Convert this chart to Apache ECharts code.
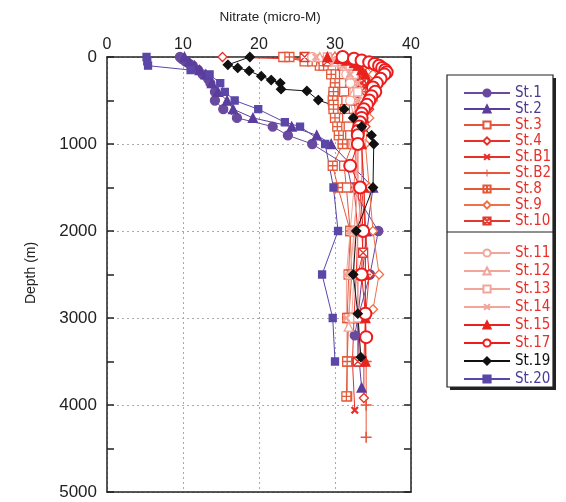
<!DOCTYPE html>
<html>
<head>
<meta charset="utf-8">
<script src="https://cdn.jsdelivr.net/npm/echarts@6/dist/echarts.min.js"></script>
<style>html,body{margin:0;padding:0;background:#fff}#c{width:566px;height:502px}</style>
</head>
<body>
<div id="c"></div>
<script>
// ---- data (nitrate in micro-M vs depth in m) ----
const xTicks = [0, 10, 20, 30, 40];
const yTicks = [0, 1000, 2000, 3000, 4000, 5000];

const st1Depth = [0, 25, 50, 75, 100, 150, 200, 250, 300, 400, 500, 600, 700, 800, 900, 1000, 1250, 1500, 2000, 2500, 3000, 3200];
const st1NO3   = [9.6, 9.9, 10.3, 10.8, 11.3, 12.0, 12.6, 13.3, 13.6, 14.2, 14.2, 15.3, 17.1, 21.8, 23.8, 27.0, 31.6, 32.2, 35.7, 34.6, 33.0, 32.6];

const st2Depth = [0, 50, 100, 150, 200, 300, 400, 500, 600, 700, 800, 900, 1000, 1500, 2000, 2500, 3000, 3500, 3800];
const st2NO3   = [10.2, 10.8, 11.5, 12.2, 13.0, 13.8, 14.6, 15.8, 16.6, 19.2, 24.3, 27.6, 29.5, 35.0, 34.2, 33.6, 33.0, 33.2, 33.5];

const st3Depth = [0, 50, 100, 200, 300, 400, 500, 600, 700, 800, 900, 1000, 1250, 1500, 2000, 2500, 3000, 3500, 3900];
const st3NO3   = [23.2, 26.0, 28.0, 30.0, 30.8, 31.2, 31.5, 31.3, 31.6, 31.8, 32.0, 32.3, 31.2, 31.5, 32.0, 31.8, 31.6, 31.6, 31.6];

const st4Depth = [0, 30, 75, 125, 200, 300, 400, 500, 600, 800, 1000, 1500, 2000, 2500, 3000, 3500, 3920];
const st4NO3   = [15.2, 28.0, 31.0, 32.0, 33.0, 33.5, 34.0, 34.2, 34.5, 34.0, 33.5, 33.5, 34.0, 34.5, 34.0, 33.8, 33.8];

const stB1Depth = [0, 50, 100, 200, 300, 500, 700, 1000, 1500, 2000, 2500, 3000, 3500, 4060];
const stB1NO3   = [29.0, 31.0, 32.5, 33.0, 33.5, 33.0, 33.0, 32.8, 32.5, 33.0, 32.8, 32.5, 32.3, 32.6];

const stB2Depth = [0, 50, 100, 200, 400, 600, 800, 1000, 1500, 2000, 2500, 3000, 3500, 4000, 4370];
const stB2NO3   = [30.0, 32.0, 33.0, 34.0, 34.0, 33.5, 33.5, 33.5, 33.8, 34.0, 34.0, 34.0, 34.1, 34.1, 34.1];

const st8Depth = [0, 50, 100, 200, 300, 350, 400, 450, 500, 550, 600, 700, 800, 900, 1000, 1250, 1500, 2000, 2500, 3000, 3500, 3900];
const st8NO3   = [24.0, 27.0, 28.5, 29.5, 30.0, 30.0, 29.8, 29.8, 29.7, 29.8, 29.8, 30.0, 30.3, 30.5, 31.0, 29.7, 30.4, 32.0, 32.2, 31.8, 31.6, 31.5];

const st9Depth = [0, 50, 100, 200, 300, 500, 700, 1000, 1500, 2000, 2500, 2900];
const st9NO3   = [30.0, 32.0, 34.0, 35.0, 35.5, 35.0, 34.5, 34.0, 34.5, 35.0, 35.8, 35.0];

const st10Depth = [0, 50, 100, 200, 300, 500, 700, 1000, 1500, 2000, 2250, 2500, 3000, 3500];
const st10NO3   = [26.0, 29.0, 31.0, 32.0, 32.5, 32.5, 32.8, 33.0, 33.0, 33.5, 33.7, 33.0, 33.0, 33.0];

const st11Depth = [0, 50, 100, 200, 300, 500, 700, 1000, 1500, 2000, 2500, 3000];
const st11NO3   = [27.0, 30.0, 31.0, 31.5, 32.0, 32.0, 32.5, 32.5, 33.0, 32.5, 32.5, 32.2];

const st12Depth = [0, 50, 100, 200, 400, 600, 1000, 1500, 2000, 2500, 3100];
const st12NO3   = [28.0, 30.0, 31.5, 32.0, 32.5, 33.0, 33.0, 33.0, 32.5, 32.0, 31.8];

const st13Depth = [0, 50, 100, 200, 400, 600, 1000, 1500, 2000, 2500, 3000];
const st13NO3   = [29.0, 31.0, 32.0, 32.5, 33.0, 33.5, 33.5, 33.5, 33.0, 33.0, 33.0];

const st14Depth = [0, 50, 100, 200, 300, 500, 800, 1000, 1500, 2000, 2500, 3000];
const st14NO3   = [27.5, 30.0, 31.0, 32.0, 33.0, 33.0, 33.5, 33.0, 32.5, 32.0, 31.5, 31.5];

const st15Depth = [0, 20, 40, 70, 100, 150, 200, 300, 400, 500, 700, 1000, 1500, 2000, 2500, 3000, 3500];
const st15NO3   = [29.0, 30.5, 31.5, 32.5, 33.0, 33.5, 34.0, 34.5, 34.5, 34.0, 33.8, 33.5, 33.8, 34.0, 34.0, 34.0, 34.0];

const st17Depth = [0, 20, 40, 60, 80, 100, 125, 150, 175, 200, 250, 300, 350, 400, 450, 500, 550, 600, 650, 700, 750, 800, 850, 900, 1000, 1250, 1500, 2000, 2500, 2950, 3220];
const st17NO3   = [31.0, 32.5, 33.5, 34.5, 35.2, 35.8, 36.2, 36.6, 36.8, 36.5, 36.0, 35.5, 35.0, 35.3, 34.8, 34.5, 34.2, 33.8, 33.5, 33.5, 33.3, 33.2, 33.0, 33.0, 33.0, 32.0, 33.3, 33.7, 33.5, 34.0, 34.1];

const st19Depth = [0, 90, 125, 160, 220, 265, 300, 370, 390, 495, 600, 700, 800, 900, 1000, 1500, 2000, 2500, 2950, 3450];
const st19NO3   = [18.8, 15.9, 17.2, 18.7, 20.3, 21.6, 22.8, 22.9, 26.3, 27.8, 31.2, 32.4, 33.5, 34.8, 35.1, 35.0, 32.8, 32.4, 33.0, 33.4];

const st20Depth = [0, 50, 100, 150, 200, 300, 400, 500, 600, 750, 800, 1000, 1500, 2000, 2500, 3000, 3500];
const st20NO3   = [5.2, 5.3, 5.4, 11.0, 13.5, 14.9, 15.5, 16.8, 19.9, 23.4, 25.4, 28.7, 29.8, 30.4, 28.3, 29.7, 30.0];

// ---- styling ----
const PURPLE = '#6a4a9e', PURPLE2 = '#5a3d9c', PURPLE3 = '#5b47a8', RED = '#e8302a', PINK = '#f2a59a';
const X_PATH = 'path://M2,0L5,3L8,0L10,2L7,5L10,8L8,10L5,7L2,10L0,8L3,5L0,2Z';
const PLUS_PATH = 'path://M4.3,0H5.7V4.3H10V5.7H5.7V10H4.3V5.7H0V4.3H4.3Z';
const SQPLUS = 'path://M0,0H10V10H0Z M5,0V10 M0,5H10';
const SQX = 'path://M0,0H10V10H0Z M0,0L10,10 M10,0L0,10';

function pts(d, v) { return d.map((dd, i) => [v[i], dd]); }

const stations = [
  {name:'St.1',  d:st1Depth,  v:st1NO3,  line:PURPLE,  sym:'circle', size:9, fill:PURPLE, stroke:PURPLE, txt:'#4b3a8f'},
  {name:'St.2',  d:st2Depth,  v:st2NO3,  line:PURPLE2, sym:'triangle', size:9, fill:PURPLE2, stroke:PURPLE2, txt:'#4b3a8f'},
  {name:'St.3',  d:st3Depth,  v:st3NO3,  line:'#e5553c', sym:'rect', size:9, fill:'#fff', stroke:'#e5553c', txt:RED},
  {name:'St.4',  d:st4Depth,  v:st4NO3,  line:RED, sym:'diamond', size:9, fill:'#fff', stroke:RED, txt:RED},
  {name:'St.B1', d:stB1Depth, v:stB1NO3, line:RED, sym:X_PATH, size:8, fill:RED, stroke:RED, bw:0, txt:RED},
  {name:'St.B2', d:stB2Depth, v:stB2NO3, line:'#e8553a', sym:PLUS_PATH, size:11, fill:'#e8553a', stroke:'#e8553a', bw:0, txt:RED},
  {name:'St.8',  d:st8Depth,  v:st8NO3,  line:'#e25a3a', sym:SQPLUS, size:9, fill:'#fff', stroke:'#e25a3a', txt:RED},
  {name:'St.9',  d:st9Depth,  v:st9NO3,  line:'#f07048', sym:'diamond', size:9, fill:'#fff', stroke:'#f07048', txt:RED},
  {name:'St.10', d:st10Depth, v:st10NO3, line:'#e03a30', sym:SQX, size:9, fill:'#fff', stroke:'#e03a30', txt:RED},
  {name:'St.11', d:st11Depth, v:st11NO3, line:PINK, sym:'circle', size:9, fill:'#fff', stroke:PINK, txt:RED},
  {name:'St.12', d:st12Depth, v:st12NO3, line:PINK, sym:'triangle', size:9, fill:'#fff', stroke:PINK, txt:RED},
  {name:'St.13', d:st13Depth, v:st13NO3, line:PINK, sym:'rect', size:8, fill:'#fff', stroke:PINK, txt:RED},
  {name:'St.14', d:st14Depth, v:st14NO3, line:PINK, sym:X_PATH, size:8, fill:PINK, stroke:PINK, bw:0, txt:RED},
  {name:'St.15', d:st15Depth, v:st15NO3, line:'#e8231e', sym:'triangle', size:9, fill:'#e8231e', stroke:'#e8231e', txt:RED},
  {name:'St.17', d:st17Depth, v:st17NO3, line:'#ee1c1c', sym:'circle', size:12, fill:'#fff', stroke:'#ee1c1c', bw:2, txt:RED},
  {name:'St.19', d:st19Depth, v:st19NO3, line:'#111', sym:'diamond', size:9, fill:'#111', stroke:'#111', txt:'#111'},
  {name:'St.20', d:st20Depth, v:st20NO3, line:PURPLE3, sym:'rect', size:7, fill:PURPLE3, stroke:PURPLE3, txt:'#4b3a9a'}
];

const series = stations.map(s => ({
  name: s.name, type: 'line', data: pts(s.d, s.v),
  symbol: s.sym, symbolSize: s.size, showSymbol: true,
  lineStyle: {color: s.line, width: 1},
  itemStyle: {color: s.fill, borderColor: s.stroke, borderWidth: (s.bw === undefined ? 1.3 : s.bw)},
  emphasis: {disabled: true}, animation: false, z: 3
}));

const LEG_FONT = {fontSize: 15, fontFamily: "'Liberation Sans Narrow','DejaVu Sans Condensed',sans-serif"};
function legData(list) { return list.map(s => ({name: s.name, textStyle: {color: s.txt}})); }

const chart = echarts.init(document.getElementById('c'), null, {renderer: 'canvas'});
chart.setOption({
  backgroundColor: '#fff',
  animation: false,
  grid: {left: 107, right: 155, top: 57, bottom: 10},
  xAxis: [
    {type: 'value', position: 'top', min: xTicks[0], max: xTicks[xTicks.length-1], interval: 10,
     axisLine: {show: true, onZero: false, lineStyle: {color: '#222', width: 1.5}},
     axisTick: {show: false},
     axisLabel: {fontSize: 16, color: '#222', margin: 4, fontFamily: 'Liberation Sans, Arial, sans-serif'},
     splitLine: {show: true, lineStyle: {color: '#aaa', type: [2, 3], width: 1}}},
    {type: 'value', position: 'bottom', min: 0, max: 40, interval: 10,
     axisLine: {show: true, onZero: false, lineStyle: {color: '#222', width: 1.5}},
     axisTick: {show: false}, axisLabel: {show: false}, splitLine: {show: false}}
  ],
  yAxis: [
    {type: 'value', inverse: true, min: yTicks[0], max: yTicks[yTicks.length-1], interval: 1000,
     axisLine: {show: true, onZero: false, lineStyle: {color: '#222', width: 1.5}},
     axisTick: {show: true, inside: true, length: 7, lineStyle: {color: '#222', width: 1.5}},
     minorTick: {show: true, splitNumber: 2, length: 7, lineStyle: {color: '#222', width: 1.5}},
     axisLabel: {fontSize: 17, color: '#222', margin: 10, fontFamily: 'Liberation Sans, Arial, sans-serif', formatter: v => String(v)},
     splitLine: {show: true, lineStyle: {color: '#aaa', type: [2, 3], width: 1}}},
    {type: 'value', inverse: true, position: 'right', min: 0, max: 5000, interval: 1000,
     axisLine: {show: true, onZero: false, lineStyle: {color: '#222', width: 1.5}},
     axisTick: {show: true, inside: true, length: 7, lineStyle: {color: '#222', width: 1.5}},
     minorTick: {show: true, splitNumber: 2, length: 7, lineStyle: {color: '#222', width: 1.5}},
     axisLabel: {show: false}, splitLine: {show: false}}
  ],
  legend: [
    {orient: 'vertical', left: 458, top: 80, itemWidth: 46, itemHeight: 9, itemGap: 0,
     selectedMode: false, data: legData(stations.slice(0, 9)),
     textStyle: Object.assign({lineHeight: 16}, LEG_FONT)},
    {orient: 'vertical', left: 458, top: 239, itemWidth: 46, itemHeight: 9, itemGap: 0,
     selectedMode: false, data: legData(stations.slice(9)),
     textStyle: Object.assign({lineHeight: 18}, LEG_FONT)}
  ],
  graphic: [
    {type: 'rect', shape: {x: 450, y: 78, width: 106, height: 312}, style: {fill: '#222'}, z: 0},
    {type: 'rect', shape: {x: 447, y: 75, width: 106, height: 312}, style: {fill: '#fff', stroke: '#222', lineWidth: 1.2}, z: 1},
    {type: 'line', shape: {x1: 447, y1: 232, x2: 553, y2: 232}, style: {stroke: '#222', lineWidth: 1.2}, z: 1},
    {type: 'text', x: 270, y: 17, style: {text: 'Nitrate (micro-M)', fontSize: 13.5, fill: '#222', textAlign: 'center', textVerticalAlign: 'middle', fontFamily: 'Liberation Sans, Arial, sans-serif'}},
    {type: 'text', x: 31, y: 273, rotation: Math.PI / 2, style: {text: 'Depth (m)', fontSize: 14, fill: '#222', textAlign: 'center', textVerticalAlign: 'middle', fontFamily: 'Liberation Sans, Arial, sans-serif'}}
  ],
  series: series
});
</script>
</body>
</html>
